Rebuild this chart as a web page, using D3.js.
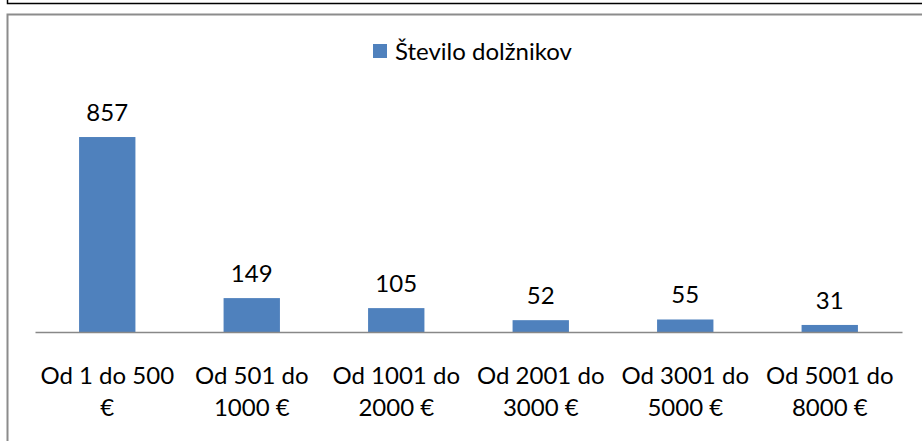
<!DOCTYPE html>
<html lang="sl">
<head>
    <meta charset="UTF-8">
    <title>Število dolžnikov</title>
    <script type="text/javascript" src="https://cdnjs.cloudflare.com/ajax/libs/d3/7.8.5/d3.min.js"></script>
    <style>
        body { margin: 0; background: #fff; }
        text { font-family: Lato, "Open Sans", sans-serif; fill: #000; }
    </style>
</head>
<body>
<div id="chart"></div>
<script>
    var categories = ["Od 1 do 500 €", "Od 501 do 1000 €", "Od 1001 do 2000 €",
        "Od 2001 do 3000 €", "Od 3001 do 5000 €", "Od 5001 do 8000 €"];
    var values = [857, 149, 105, 52, 55, 31];
    var seriesName = "Število dolžnikov";

    var width = 922, height = 441;
    var margin = {top: 104.5, right: 20, bottom: 109, left: 35};
    var fontSize = "24px";

    var svg = d3.select("#chart").append("svg")
        .attr("width", width)
        .attr("height", height);

    // outer frame pieces (black) and chart border (gray)
    svg.append("path")
        .attr("d", "M7.5,0V3.5H922")
        .attr("fill", "none")
        .attr("stroke", "#000")
        .attr("stroke-width", 1.5);

    svg.append("rect")
        .attr("x", 7.5).attr("y", 14.5)
        .attr("width", 940).attr("height", 460)
        .attr("fill", "none")
        .attr("stroke", "#8c8c8c")
        .attr("stroke-width", 2);

    var x = d3.scaleBand()
        .domain(categories)
        .range([margin.left, width - margin.right])
        .paddingInner(0.61)
        .paddingOuter(0.305);

    var y = d3.scaleLinear()
        .domain([0, 1000])
        .range([height - margin.bottom, margin.top]);

    svg.selectAll("rect.bar")
        .data(values)
        .enter().append("rect")
        .attr("class", "bar")
        .attr("x", function(d, i) { return x(categories[i]); })
        .attr("y", function(d) { return y(d); })
        .attr("width", x.bandwidth())
        .attr("height", function(d) { return y(0) - y(d); })
        .attr("fill", "#4f81bd");

    svg.selectAll("text.val")
        .data(values)
        .enter().append("text")
        .attr("class", "val")
        .attr("x", function(d, i) { return x(categories[i]) + x.bandwidth() / 2; })
        .attr("y", function(d) { return y(d) - 16; })
        .attr("text-anchor", "middle")
        .style("font-size", fontSize)
        .text(function(d) { return d; });

    // x axis line
    var xAxis = d3.axisBottom(x).tickSize(0).tickFormat("");
    var gx = svg.append("g")
        .attr("transform", "translate(0," + y(0) + ")")
        .call(xAxis);
    gx.select(".domain").attr("stroke", "#888").attr("stroke-width", 1.5);

    // category labels, wrapped to a fixed width
    var wrapWidth = 140;
    categories.forEach(function(c) {
        var cx = x(c) + x.bandwidth() / 2;
        var t = svg.append("text")
            .attr("text-anchor", "middle")
            .style("font-size", fontSize)
            .attr("x", cx)
            .attr("y", 384);
        var words = c.split(" "), line = [], lines = [];
        var probe = t.append("tspan");
        words.forEach(function(w) {
            line.push(w);
            probe.text(line.join(" "));
            if (probe.node().getComputedTextLength() > wrapWidth && line.length > 1) {
                line.pop();
                lines.push(line.join(" "));
                line = [w];
            }
        });
        lines.push(line.join(" "));
        probe.remove();
        lines.forEach(function(l, i) {
            t.append("tspan")
                .attr("x", cx)
                .attr("dy", i === 0 ? 0 : 32)
                .text(l);
        });
    });

    // legend
    var legend = svg.append("g").attr("transform", "translate(373,44)");
    legend.append("rect")
        .attr("width", 14).attr("height", 14)
        .attr("fill", "#4f81bd");
    legend.append("text")
        .attr("x", 22).attr("y", 16)
        .style("font-size", fontSize)
        .text(seriesName);
</script>
</body>
</html>
